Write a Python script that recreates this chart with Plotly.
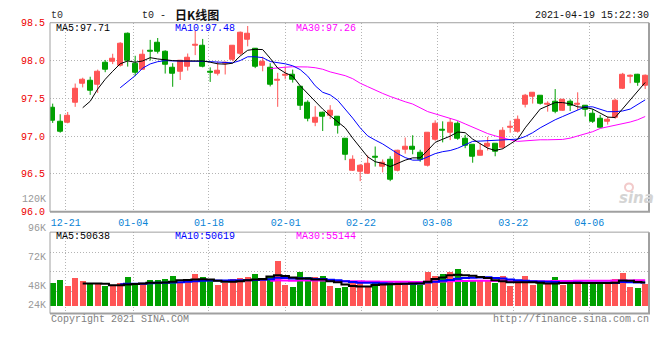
import plotly.graph_objects as go

# ---------------- data ----------------
OPEN = [97.375, 97.196, 97.175, 97.444, 97.696, 97.730, 97.675, 97.974, 97.982, 97.935,
        98.350, 97.953, 97.880, 98.136, 98.230, 98.123, 97.900, 97.854, 97.922, 98.192,
        98.192, 97.850, 97.828, 97.957, 98.008, 98.093, 98.273, 98.157, 97.931, 97.900,
        97.739, 97.803, 97.816, 97.658, 97.444, 97.175, 97.316, 97.273, 97.252, 96.970,
        96.546, 96.534, 96.504, 96.734, 96.598, 96.692, 96.546, 96.824, 96.863, 96.781,
        96.610, 96.952, 97.081, 97.046, 97.166, 96.961, 96.884, 96.747, 96.854, 96.897,
        96.841, 97.110, 97.059, 97.422, 97.516, 97.529, 97.418, 97.461, 97.337, 97.461,
        97.410, 97.397, 97.294, 97.226, 97.196, 97.239, 97.623, 97.786, 97.816, 97.666]
HIGH = [97.430, 97.290, 97.320, 97.696, 97.773, 97.786, 97.880, 98.008, 98.090, 98.243,
        98.371, 98.063, 98.145, 98.273, 98.298, 98.136, 97.965, 98.008, 98.093, 98.392,
        98.286, 97.910, 97.986, 97.987, 98.200, 98.384, 98.457, 98.166, 98.051, 97.965,
        97.837, 97.922, 97.880, 97.666, 97.474, 97.397, 97.324, 97.410, 97.260, 96.975,
        96.747, 96.632, 96.747, 96.863, 96.692, 96.734, 96.820, 96.982, 97.012, 96.820,
        97.046, 97.209, 97.196, 97.239, 97.196, 97.017, 96.884, 96.905, 96.991, 96.897,
        97.119, 97.205, 97.273, 97.559, 97.580, 97.529, 97.461, 97.623, 97.487, 97.487,
        97.580, 97.410, 97.358, 97.281, 97.260, 97.495, 97.837, 97.816, 97.824, 97.816]
LOW = [97.175, 97.046, 97.170, 97.388, 97.645, 97.546, 97.572, 97.846, 97.953, 97.920,
       97.920, 97.794, 97.880, 98.000, 98.093, 97.828, 97.653, 97.743, 97.867, 98.072,
       97.910, 97.717, 97.803, 97.816, 97.990, 98.072, 98.188, 97.900, 97.858, 97.658,
       97.388, 97.752, 97.709, 97.346, 97.196, 97.132, 97.068, 97.226, 97.034, 96.683,
       96.540, 96.405, 96.500, 96.598, 96.521, 96.405, 96.534, 96.769, 96.760, 96.662,
       96.598, 96.940, 96.918, 96.948, 96.952, 96.841, 96.649, 96.747, 96.811, 96.734,
       96.833, 97.046, 97.046, 97.380, 97.431, 97.418, 97.324, 97.303, 97.337, 97.333,
       97.346, 97.260, 97.175, 97.110, 97.153, 97.230, 97.623, 97.700, 97.666, 97.623]
CLOSE = [97.210, 97.055, 97.269, 97.632, 97.747, 97.602, 97.858, 97.880, 98.030, 98.220,
         97.995, 97.837, 98.080, 98.115, 98.115, 97.944, 97.824, 97.995, 98.042, 98.213,
         97.922, 97.837, 97.867, 97.974, 98.192, 98.363, 98.350, 97.922, 97.978, 97.675,
         97.747, 97.816, 97.752, 97.401, 97.226, 97.239, 97.260, 97.333, 97.140, 96.756,
         96.683, 96.610, 96.640, 96.713, 96.649, 96.427, 96.811, 96.863, 96.820, 96.683,
         97.046, 97.162, 97.068, 97.180, 96.961, 96.876, 96.734, 96.811, 96.905, 96.790,
         97.068, 97.119, 97.217, 97.529, 97.580, 97.427, 97.431, 97.324, 97.487, 97.397,
         97.431, 97.346, 97.187, 97.110, 97.213, 97.465, 97.816, 97.803, 97.709, 97.794]
VOLUME = [49500, 55700, 43300, 59800, 53000, 48200, 48200, 43300, 43300, 49500,
          61200, 46200, 48200, 55700, 55700, 57700, 63900, 50900, 53000, 68000,
          61200, 55700, 45400, 49500, 57700, 59800, 61200, 68000, 55700, 63900,
          94800, 45400, 41200, 71500, 61200, 61200, 63300, 42700, 39200, 41200,
          48200, 53000, 42700, 48200, 46200, 50900, 53000, 46200, 49500, 44700,
          71500, 63300, 68000, 71500, 78400, 55100, 56500, 54400, 54400, 49500,
          63300, 42700, 49500, 63300, 44700, 53000, 49500, 61200, 44700, 49500,
          55100, 46200, 50900, 50900, 50900, 57100, 69500, 40600, 38600, 47400]

# price moving averages as drawn
MA5 = [None] * 4 + [
    97.376, 97.461, 97.623, 97.752, 97.858, 97.957, 97.995, 97.978, 97.995, 98.038,
    98.021, 98.008, 97.999, 97.995, 97.995, 97.999, 97.995, 97.978, 97.957, 97.952,
    97.965, 98.060, 98.136, 98.149, 98.145, 98.030, 97.900, 97.837, 97.794, 97.666,
    97.559, 97.465, 97.358, 97.269, 97.187, 97.110, 96.974, 96.854, 96.726, 96.662,
    96.640, 96.598, 96.640, 96.683, 96.713, 96.713, 96.811, 96.918, 96.960, 97.000,
    97.055, 97.046, 96.961, 96.897, 96.841, 96.811, 96.833, 96.897, 96.961, 97.110,
    97.239, 97.358, 97.401, 97.444, 97.444, 97.427, 97.388, 97.380, 97.358, 97.303,
    97.252, 97.247, 97.360, 97.480, 97.600, 97.710]
MA10 = [None] * 9 + [
    97.640, 97.720, 97.800, 97.900, 97.955, 97.985, 97.999, 97.995, 97.990, 97.990,
    97.990, 97.990, 97.985, 97.975, 97.970, 97.970, 98.000, 98.050, 98.050, 98.038,
    97.987, 97.974, 97.957, 97.931, 97.880, 97.794, 97.666, 97.580, 97.546, 97.474,
    97.358, 97.239, 97.110, 97.004, 96.948, 96.897, 96.833, 96.769, 96.717, 96.683,
    96.683, 96.726, 96.769, 96.795, 96.810, 96.841, 96.888, 96.931, 96.935, 96.940,
    96.940, 96.948, 96.952, 96.961, 96.995, 97.046, 97.110, 97.166, 97.217, 97.260,
    97.303, 97.354, 97.388, 97.388, 97.358, 97.324, 97.324, 97.333, 97.358, 97.418,
    97.480]
MA30 = [None] * 29 + [
    97.893, 97.905, 97.912, 97.918, 97.920, 97.915, 97.905, 97.885, 97.850, 97.825,
    97.800, 97.760, 97.700, 97.655, 97.605, 97.565, 97.525, 97.485, 97.455, 97.425,
    97.370, 97.325, 97.295, 97.265, 97.239, 97.205, 97.162, 97.119, 97.068, 97.034,
    97.004, 96.974, 96.952, 96.931, 96.940, 96.948, 96.952, 96.952, 96.952, 96.957,
    96.974, 97.004, 97.025, 97.059, 97.102, 97.123, 97.140, 97.162, 97.187, 97.217,
    97.260]

# volume moving averages as drawn
VMA5 = [None] * 4 + [
    48500, 48500, 48500, 48000, 44500, 44500, 46000, 47000, 48500, 50000,
    50000, 50500, 52000, 55000, 55500, 57000, 57500, 57000, 54000, 52000,
    52000, 53000, 55000, 57000, 58000, 63000, 66000, 64000, 61000, 59000,
    59000, 57000, 57000, 53000, 51000, 46000, 43000, 42000, 42000, 45000,
    46000, 46500, 47000, 48000, 48500, 48500, 52000, 58000, 61000, 66000,
    67000, 66000, 65000, 62000, 60000, 55000, 53000, 51000, 51000, 51000,
    51000, 50000, 48500, 48500, 49500, 49500, 49500, 49500, 49500, 49500,
    49500, 50000, 54500, 54000, 51500, 50638]
VMA10 = [None] * 9 + [
    46500, 47500, 47500, 48000, 49000, 50000, 50000, 50500, 51000, 52000,
    53000, 54000, 54500, 54500, 54500, 55000, 55000, 55000, 56000, 56500,
    57500, 60500, 60000, 59000, 59500, 59000, 58000, 58000, 56500, 55000,
    53000, 51500, 50000, 50000, 50000, 49000, 47500, 47500, 47500, 48000,
    48500, 50500, 52000, 54000, 56000, 58500, 60000, 60500, 61000, 61500,
    60000, 59000, 57000, 55000, 54000, 53000, 52500, 52000, 51500, 50000,
    50000, 50500, 50000, 50000, 50000, 50000, 49500, 51500, 51000, 50500,
    50619]
VMA30 = [None] * 29 + [
    54000, 55000, 54500, 54000, 54500, 54500, 54500, 54500, 54000, 53500,
    53000, 53000, 53000, 52500, 52500, 52000, 52000, 52000, 52000, 51500,
    51500, 52000, 52000, 52500, 53000, 53500, 53500, 54000, 54000, 54000,
    53500, 53500, 53000, 53000, 53000, 53000, 53000, 53000, 53500, 53500,
    53500, 54000, 54000, 54000, 54000, 54000, 54500, 54500, 54500, 55000,
    55144]

DATE_TICKS = ["12-21", "01-04", "01-18", "02-01", "02-22", "03-08", "03-22", "04-06"]
PRICE_TICKS = [96.0, 96.5, 97.0, 97.5, 98.0, 98.5]
VOL_TICK_LABELS = ["120K", "96K", "72K", "48K", "24K"]
PRICE_MA_TEXT = ["MA5:97.71", "MA10:97.48", "MA30:97.26"]
VOL_MA_TEXT = ["MA5:50638", "MA10:50619", "MA30:55144"]

# ---------------- styling / layout constants ----------------
W, H = 660, 360
RED = "#ff5555"
GREEN = "#00a000"
GRID = "#b4b4b4"
BORDER = "#a0a0a0"
MONO = "Liberation Mono, DejaVu Sans Mono, monospace"
X0, X1 = 50, 649
P_TOP, P_BOT = 18.3, 213.3
V_TOP, V_BOT = 234.3, 318.3
XRANGE = [-0.36, 79.51]
GRID_POS = [1.733, 10.75, 20.84, 31.07, 41.11, 51.28, 61.41, 71.55]
VOL_RANGE = [-15670, 157530]
VOL_GRID = [31750, 72990, 114230]


def fx(X):
    return X / W


def fy(Y):
    return 1 - Y / H


n = len(CLOSE)
idx = list(range(n))
up = [CLOSE[i] >= OPEN[i] for i in idx]
cols = [RED if u else GREEN for u in up]

fig = go.Figure()

# wicks
for flag, col in ((True, RED), (False, GREEN)):
    wx, wy = [], []
    for i in idx:
        if up[i] == flag:
            wx += [i, i, None]
            wy += [LOW[i], HIGH[i], None]
    fig.add_trace(go.Scatter(x=wx, y=wy, mode="lines", line=dict(color=col, width=1),
                             hoverinfo="skip", showlegend=False, xaxis="x", yaxis="y"))

# candle bodies
fig.add_trace(go.Bar(x=idx, base=OPEN, y=[CLOSE[i] - OPEN[i] for i in idx], width=0.66,
                     marker=dict(color=cols, line=dict(color=cols, width=1)),
                     showlegend=False, xaxis="x", yaxis="y"))

# price MAs
for ser, col in ((MA30, "#ff00ff"), (MA10, "#0000ff"), (MA5, "#000000")):
    fig.add_trace(go.Scatter(x=idx, y=ser, mode="lines", line=dict(color=col, width=1),
                             showlegend=False, xaxis="x", yaxis="y"))

# volume bars
fig.add_trace(go.Bar(x=idx, y=VOLUME, width=0.8, marker=dict(color=cols, line=dict(width=0)),
                     showlegend=False, xaxis="x2", yaxis="y2"))

for ser, col in ((VMA30, "#ff00ff"), (VMA10, "#0000ff"), (VMA5, "#000000")):
    fig.add_trace(go.Scatter(x=idx, y=ser, mode="lines", line=dict(color=col, width=2, shape="hvh"),
                             showlegend=False, xaxis="x2", yaxis="y2"))

gridd = "1px,2px"
fig.update_layout(
    width=W, height=H, margin=dict(l=0, r=0, t=0, b=0),
    paper_bgcolor="white", plot_bgcolor="white", barmode="overlay", bargap=0,
    xaxis=dict(domain=[fx(X0), fx(X1)], range=XRANGE, anchor="y",
               tickmode="array", tickvals=GRID_POS, ticktext=DATE_TICKS,
               tickfont=dict(family=MONO, size=10, color="#0a84d6"), ticks="",
               ticklabelstandoff=3,
               showgrid=True, gridcolor=GRID, griddash=gridd, gridwidth=1,
               zeroline=False, showline=False),
    yaxis=dict(domain=[fy(P_BOT), fy(P_TOP)], range=[PRICE_TICKS[0], PRICE_TICKS[-1]],
               tickmode="array", tickvals=PRICE_TICKS, ticktext=["%.1f" % v for v in PRICE_TICKS],
               tickfont=dict(family=MONO, size=10, color="#ee0000"), ticks="",
               ticklabelstandoff=4,
               showgrid=True, gridcolor=GRID, griddash=gridd, gridwidth=1,
               zeroline=False, showline=False),
    xaxis2=dict(domain=[fx(X0), fx(X1)], range=XRANGE, anchor="y2",
                tickmode="array", tickvals=GRID_POS, showticklabels=False, ticks="",
                showgrid=True, gridcolor=GRID, griddash=gridd, gridwidth=1,
                zeroline=False, showline=False),
    yaxis2=dict(domain=[fy(V_BOT), fy(V_TOP)], range=VOL_RANGE, anchor="x2",
                tickmode="array", tickvals=VOL_GRID, showticklabels=False, ticks="",
                showgrid=True, gridcolor=GRID, griddash=gridd, gridwidth=1,
                zeroline=False, showline=False),
)

# panel borders
shapes = []
for top, bot in ((P_TOP, P_BOT), (V_TOP, V_BOT)):
    shapes.append(dict(type="line", xref="paper", yref="paper", x0=fx(X0), x1=fx(X1), y0=fy(top), y1=fy(top),
                       line=dict(color=BORDER, width=1), layer="above"))
    shapes.append(dict(type="line", xref="paper", yref="paper", x0=fx(X0), x1=fx(X0), y0=fy(top), y1=fy(bot),
                       line=dict(color=BORDER, width=1), layer="above"))
    shapes.append(dict(type="line", xref="paper", yref="paper", x0=fx(X1), x1=fx(X1), y0=fy(top), y1=fy(bot),
                       line=dict(color=BORDER, width=2), layer="above"))
    shapes.append(dict(type="line", xref="paper", yref="paper", x0=fx(X0), x1=fx(X1 + 1), y0=fy(bot), y1=fy(bot),
                       line=dict(color=BORDER, width=2), layer="above"))
# faint logo eye of the watermark
shapes.append(dict(type="circle", xref="paper", yref="paper", x0=fx(625), x1=fx(633), y0=fy(192), y1=fy(184),
                   line=dict(color="#f2caca", width=2), layer="above"))
fig.update_layout(shapes=shapes)


def ann(text, X, Y, color="#000000", size=10, anchor="left", family=MONO):
    fig.add_annotation(text=text, x=fx(X), y=fy(Y), xref="paper", yref="paper",
                       xanchor=anchor, yanchor="middle", showarrow=False,
                       font=dict(family=family, size=size, color=color), borderpad=0)


ann("t0", 49.5, 11.0, "#333333")
ann("t0 -", 141, 11.0, "#222222")
ann("<b>日K线图</b>", 174, 10.0, "#111111", 12, family="Noto Sans CJK SC")
ann("2021-04-19 15:22:30", 649.5, 11.0, "#111111", anchor="right")

ma_cols = ["#000000", "#0000ff", "#ff00ff"]
ma_x = [54.5, 174, 294.5]
for t, c, X in zip(PRICE_MA_TEXT, ma_cols, ma_x):
    ann(t, X, 24.6, c)
for t, c, X in zip(VOL_MA_TEXT, ma_cols, ma_x):
    ann(t, X, 238.8, c)

vol_label_y = [200.7, 230.7, 260.2, 290.3, 310.3]
for t, Y in zip(VOL_TICK_LABELS, vol_label_y):
    ann(t, 46.5, Y, "#999999", anchor="right")

ann("Copyright 2021 SINA.COM", 49.5, 324, "#808080")
ann("http://finance.sina.com.cn", 649.5, 324, "#808080", anchor="right")
ann("<b><i>sina</i></b>", 636, 199, "#d4d4d4", 15, anchor="center", family="DejaVu Sans")

fig.write_html("out.html", config={"displayModeBar": False},
               post_script="document.body.style.margin='0';document.body.style.overflow='hidden';")
